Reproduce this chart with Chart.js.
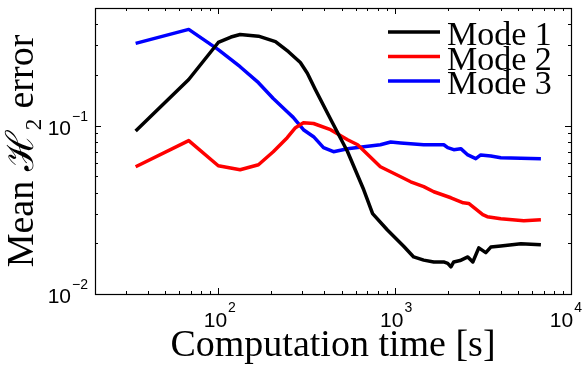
<!DOCTYPE html>
<html>
<head>
<meta charset="utf-8">
<script src="https://cdn.jsdelivr.net/npm/chart.js@4/dist/chart.umd.min.js"></script>
<style>
  html, body { margin: 0; padding: 0; background: #fff; }
  canvas { display: block; }
</style>
</head>
<body>
<canvas id="grafico" width="586" height="369"></canvas>
<script>
// valores
const seriesNames = ['Mode 1', 'Mode 2', 'Mode 3'];
const seriesColors = ['#000000', '#ff0000', '#0000ff'];

const mode1Time = [34, 68, 100, 118, 133, 169, 211, 250, 292, 320, 355, 444, 541, 668, 750, 910, 1125, 1282, 1462, 1667, 1897, 2000, 2085, 2163, 2350, 2600, 2775, 3000, 3288, 3510, 4000, 5200, 6750];
const mode1Error = [0.093, 0.188, 0.312, 0.336, 0.348, 0.340, 0.316, 0.275, 0.237, 0.205, 0.164, 0.104, 0.070, 0.0416, 0.030, 0.024, 0.0192, 0.0166, 0.0159, 0.0155, 0.0155, 0.0152, 0.0145, 0.0155, 0.0158, 0.0166, 0.0155, 0.0188, 0.0176, 0.0190, 0.0193, 0.0199, 0.0196];

const mode2Time = [34, 68, 100, 133, 169, 205, 246, 274, 304, 347, 433, 541, 617, 830, 1082, 1233, 1462, 1667, 2085, 2450, 2630, 3160, 3350, 4000, 5400, 6750];
const mode2Error = [0.057, 0.0815, 0.0578, 0.0547, 0.0586, 0.070, 0.0848, 0.0973, 0.104, 0.103, 0.0946, 0.0825, 0.077, 0.057, 0.0497, 0.0464, 0.0434, 0.0405, 0.0373, 0.0348, 0.0345, 0.0296, 0.0288, 0.028, 0.0272, 0.0276];

const mode3Time = [34, 68, 100, 133, 169, 205, 246, 266, 304, 347, 395, 450, 541, 668, 830, 950, 1082, 1462, 1900, 2000, 2163, 2372, 2600, 2885, 3078, 3510, 4000, 6750];
const mode3Error = [0.308, 0.373, 0.283, 0.224, 0.180, 0.145, 0.121, 0.112, 0.0946, 0.086, 0.074, 0.070, 0.073, 0.075, 0.077, 0.080, 0.079, 0.077, 0.077, 0.074, 0.072, 0.073, 0.067, 0.0637, 0.067, 0.066, 0.0645, 0.0637];

const xMajorTicks = [100, 1000, 10000];
const xMinorTicks = [20, 30, 40, 50, 60, 70, 80, 90, 200, 300, 400, 500, 600, 700, 800, 900, 2000, 3000, 4000, 5000, 6000, 7000, 8000, 9000];
const yMajorTicks = [0.01, 0.1];
const yMinorTicks = [0.02, 0.03, 0.04, 0.05, 0.06, 0.07, 0.08, 0.09, 0.2, 0.3, 0.4, 0.5];

const times = [mode1Time, mode2Time, mode3Time];
const errors = [mode1Error, mode2Error, mode3Error];

const datasets = seriesNames.map((name, i) => ({
  label: name,
  data: times[i].map((t, j) => ({ x: t, y: errors[i][j] })),
  borderColor: seriesColors[i],
  borderWidth: 3.5,
  pointRadius: 0,
  tension: 0,
  fill: false,
  borderJoinStyle: 'round'
}));

function exponentOf(v) {
  return Math.round(Math.log10(v)).toString().replace('-', '\u2212');
}

// ejes estilo matlab: caja, ticks hacia dentro, etiquetas 10^n y leyenda
const matlabStyle = {
  id: 'matlabStyle',
  afterDraw(chart) {
    const ctx = chart.ctx;
    const a = chart.chartArea;
    const xs = chart.scales.x;
    const ys = chart.scales.y;

    ctx.save();
    ctx.strokeStyle = '#000';
    ctx.lineWidth = 1.2;
    ctx.strokeRect(Math.round(a.left) + 0.5, Math.round(a.top) + 0.5, Math.round(a.right - a.left), Math.round(a.bottom - a.top));

    ctx.lineWidth = 1;
    const tickX = (v, len) => {
      const px = Math.round(xs.getPixelForValue(v)) + 0.5;
      ctx.beginPath();
      ctx.moveTo(px, a.bottom); ctx.lineTo(px, a.bottom - len);
      ctx.moveTo(px, a.top); ctx.lineTo(px, a.top + len);
      ctx.stroke();
    };
    const tickY = (v, len) => {
      const py = Math.round(ys.getPixelForValue(v)) + 0.5;
      ctx.beginPath();
      ctx.moveTo(a.left, py); ctx.lineTo(a.left + len, py);
      ctx.moveTo(a.right, py); ctx.lineTo(a.right - len, py);
      ctx.stroke();
    };
    xMinorTicks.forEach(v => tickX(v, 3));
    xMajorTicks.forEach(v => tickX(v, 6));
    yMinorTicks.forEach(v => tickY(v, 3));
    yMajorTicks.forEach(v => tickY(v, 6));

    // etiquetas
    ctx.fillStyle = '#000';
    ctx.textBaseline = 'alphabetic';
    ctx.textAlign = 'left';
    const baseFont = '21px "Liberation Sans", Arial, sans-serif';
    const expFont = '14px "Liberation Sans", Arial, sans-serif';

    xMajorTicks.forEach(v => {
      const px = xs.getPixelForValue(v);
      const e = exponentOf(v);
      ctx.font = baseFont;
      const w1 = ctx.measureText('10').width;
      ctx.font = expFont;
      const w2 = ctx.measureText(e).width;
      let x0 = px - (w1 + w2) / 2 + 1;
      if (x0 + w1 + w2 + 1 > chart.width - 4) x0 = chart.width - 4 - w1 - w2 - 1;
      ctx.font = baseFont;
      ctx.fillText('10', x0, a.bottom + 33);
      ctx.font = expFont;
      ctx.fillText(e, x0 + w1 + 1, a.bottom + 18);
    });

    yMajorTicks.forEach(v => {
      const py = ys.getPixelForValue(v);
      const e = exponentOf(v);
      ctx.font = baseFont;
      const w1 = ctx.measureText('10').width;
      ctx.font = expFont;
      const w2 = ctx.measureText(e).width;
      const x0 = a.left - 8 - w2 - w1;
      ctx.font = baseFont;
      ctx.fillText('10', x0, py + 9);
      ctx.font = expFont;
      ctx.fillText(e, x0 + w1 + 1, py - 5);
    });

    // leyenda
    const lx0 = a.right - 183;
    const lx1 = a.right - 131;
    ctx.font = '34px "Liberation Serif", "Times New Roman", serif';
    chart.data.datasets.forEach((ds, i) => {
      const yLine = a.top + 24 + i * 24.5;
      ctx.strokeStyle = ds.borderColor;
      ctx.lineWidth = 3.5;
      ctx.beginPath();
      ctx.moveTo(lx0, yLine);
      ctx.lineTo(lx1, yLine);
      ctx.stroke();
      ctx.fillStyle = '#000';
      ctx.fillText(ds.label, a.right - 124, yLine + 13);
    });
    ctx.restore();
  }
};

const ctx = document.getElementById('grafico').getContext('2d');
const chart = new Chart(ctx, {
  type: 'line',
  data: { datasets: datasets },
  options: {
    responsive: false,
    animation: false,
    devicePixelRatio: 1,
    layout: { padding: { top: 8, right: 15, left: 0, bottom: 0 } },
    plugins: {
      legend: { display: false },
      tooltip: { enabled: false }
    },
    scales: {
      x: {
        type: 'logarithmic',
        min: 20,
        max: 10000,
        grid: { display: false },
        border: { display: false },
        ticks: { display: false },
        title: {
          display: true,
          text: 'Computation time [s]',
          color: '#000',
          padding: 0,
          font: { family: '"Liberation Serif", "Times New Roman", serif', size: 38 }
        },
        afterFit: scale => { scale.height = 75; }
      },
      y: {
        type: 'logarithmic',
        min: 0.01,
        max: 0.5,
        grid: { display: false },
        border: { display: false },
        ticks: { display: false },
        title: {
          display: true,
          text: 'Mean \u210B\u2082 error',
          color: '#000',
          padding: 0,
          font: { family: '"Liberation Serif", "Times New Roman", serif', size: 38 }
        },
        afterFit: scale => { scale.width = 95; }
      }
    }
  },
  plugins: [matlabStyle]
});
</script>
</body>
</html>
